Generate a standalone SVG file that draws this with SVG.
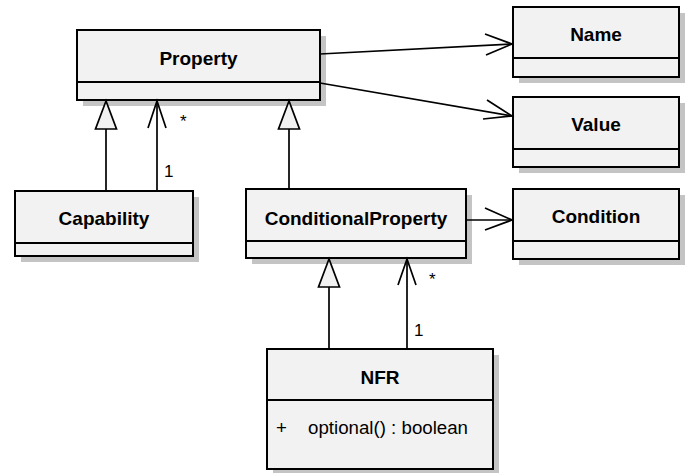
<svg xmlns="http://www.w3.org/2000/svg" width="695" height="473" viewBox="0 0 695 473">
  <style>
    .shadow { fill: #c4c4c4; }
    .box { fill: #f2f2f2; stroke: #000; stroke-width: 2; }
    .div { stroke: #000; stroke-width: 2; }
    .title { font-family: "Liberation Sans", Arial, sans-serif; font-weight: bold; font-size: 19px; text-anchor: middle; fill: #000; }
    .op { font-family: "Liberation Sans", Arial, sans-serif; font-size: 18.7px; fill: #000; }
    .mult { font-family: "Liberation Sans", Arial, sans-serif; font-size: 17px; fill: #000; }
    .line { fill: none; stroke: #000; stroke-width: 1.7; }
    .tri { fill: #f2f2f2; stroke: #000; stroke-width: 1.7; stroke-linejoin: miter; }
  </style>
  <rect width="695" height="473" fill="#fff"/>

  <!-- Classes -->
  <g id="property">
    <rect class="shadow" x="83" y="36" width="243" height="70"/>
    <rect class="box" x="77" y="30" width="243" height="70"/>
    <line class="div" x1="77" y1="82" x2="320" y2="82"/>
    <text class="title" x="198.5" y="65">Property</text>
  </g>
  <g id="name">
    <rect class="shadow" x="519" y="13" width="166" height="70"/>
    <rect class="box" x="513" y="7" width="166" height="70"/>
    <line class="div" x1="513" y1="58" x2="679" y2="58"/>
    <text class="title" x="596" y="41">Name</text>
  </g>
  <g id="value">
    <rect class="shadow" x="519" y="103" width="166" height="70"/>
    <rect class="box" x="513" y="97" width="166" height="70"/>
    <line class="div" x1="513" y1="149" x2="679" y2="149"/>
    <text class="title" x="596" y="131">Value</text>
  </g>
  <g id="capability">
    <rect class="shadow" x="21" y="197" width="178" height="65"/>
    <rect class="box" x="15" y="191" width="178" height="65"/>
    <line class="div" x1="15" y1="243" x2="193" y2="243"/>
    <text class="title" x="104" y="225">Capability</text>
  </g>
  <g id="conditional-property">
    <rect class="shadow" x="252" y="195" width="220" height="69"/>
    <rect class="box" x="246" y="189" width="220" height="69"/>
    <line class="div" x1="246" y1="241" x2="466" y2="241"/>
    <text class="title" x="356" y="225">ConditionalProperty</text>
  </g>
  <g id="condition">
    <rect class="shadow" x="519" y="195" width="166" height="70"/>
    <rect class="box" x="513" y="189" width="166" height="70"/>
    <line class="div" x1="513" y1="241" x2="679" y2="241"/>
    <text class="title" x="596" y="223">Condition</text>
  </g>
  <g id="nfr">
    <rect class="shadow" x="273" y="355" width="226" height="120"/>
    <rect class="box" x="267" y="349" width="226" height="120"/>
    <line class="div" x1="267" y1="400" x2="493" y2="400"/>
    <text class="title" x="380" y="384">NFR</text>
    <text class="op" x="276" y="434">+</text>
    <text class="op" x="308" y="434">optional() : boolean</text>
  </g>

  <!-- Connectors -->
  <g id="connectors">
    <!-- Capability generalizes Property -->
    <line class="line" x1="106" y1="191" x2="106" y2="129"/>
    <polygon class="tri" points="106,101 95.5,129 116.5,129"/>
    <!-- Capability to Property association -->
    <line class="line" x1="157" y1="191" x2="157" y2="101"/>
    <polyline class="line" points="148,128 157,101 166,128"/>
    <text class="mult" x="180" y="127">*</text>
    <text class="mult" x="164" y="177">1</text>
    <!-- ConditionalProperty generalizes Property -->
    <line class="line" x1="289" y1="189" x2="289" y2="129"/>
    <polygon class="tri" points="289,101 278.5,129 299.5,129"/>
    <!-- Property to Name and Value -->
    <line class="line" x1="320" y1="54" x2="512" y2="44"/>
    <polyline class="line" points="485,34 512,44 486,55"/>
    <line class="line" x1="320" y1="83" x2="512" y2="116"/>
    <polyline class="line" points="487,100 512,116 483,119"/>
    <!-- ConditionalProperty to Condition -->
    <line class="line" x1="466" y1="220" x2="512" y2="220"/>
    <polyline class="line" points="485,208 512,220 485,230"/>
    <!-- NFR generalizes ConditionalProperty -->
    <line class="line" x1="329" y1="349" x2="329" y2="287"/>
    <polygon class="tri" points="329,259 318.5,287 339.5,287"/>
    <!-- NFR to ConditionalProperty association -->
    <line class="line" x1="407" y1="349" x2="407" y2="259"/>
    <polyline class="line" points="398,285 407,259 416,285"/>
    <text class="mult" x="429" y="285">*</text>
    <text class="mult" x="414" y="336">1</text>
  </g>
</svg>
